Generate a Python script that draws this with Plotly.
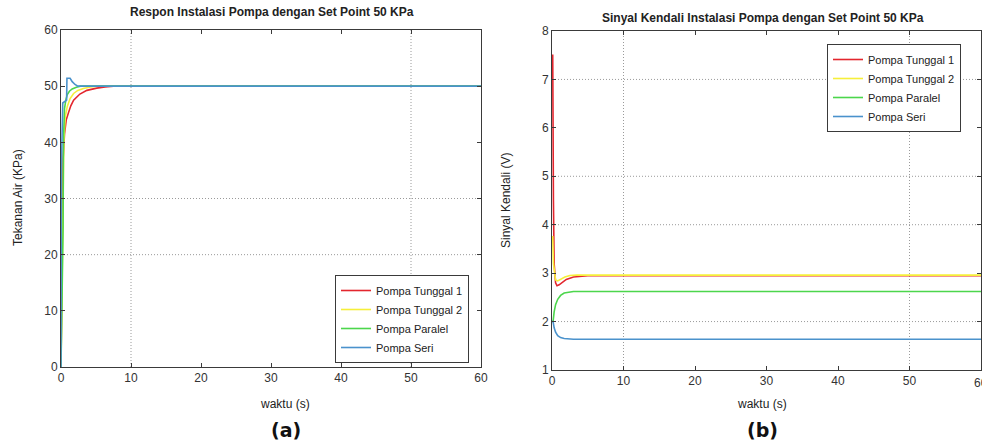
import plotly.graph_objects as go

# ---- Respon tekanan (KPa) terhadap waktu (s) ----
t_tunggal1_p = [0, 0.3, 0.5, 0.75, 1.05, 1.4, 1.8, 2.7, 3.7, 5.1, 6.3, 7.5, 60]
p_tunggal1 = [0, 37.0, 41.5, 44.0, 45.2, 46.5, 47.5, 48.6, 49.25, 49.65, 49.85, 50.0, 50.0]

t_tunggal2_p = [0, 0.3, 0.4, 0.6, 0.9, 1.3, 1.8, 2.4, 3.2, 4.2, 5.2, 60]
p_tunggal2 = [0, 30.0, 40.0, 44.5, 46.4, 47.8, 48.7, 49.25, 49.6, 49.85, 50.0, 50.0]

t_paralel_p = [0, 0.3, 0.35, 0.5, 0.7, 0.9, 1.2, 1.6, 2.2, 2.8, 60]
p_paralel = [0, 25.0, 40.0, 46.0, 47.6, 48.5, 49.1, 49.5, 49.8, 50.0, 50.0]

t_seri_p = [0, 0.05, 0.25, 0.55, 0.8, 0.85, 1.3, 1.6, 2.0, 2.4, 60]
p_seri = [0, 35.0, 47.0, 47.3, 47.5, 51.4, 51.4, 50.8, 50.3, 50.0, 50.0]

# ---- Sinyal kendali (V) terhadap waktu (s) ----
t_tunggal1_v = [0, 0.1, 0.2, 0.3, 0.5, 0.7, 1.0, 1.5, 2.0, 3.0, 4.0, 5.0, 60]
v_tunggal1 = [7.5, 7.5, 4.5, 3.2, 2.8, 2.74, 2.76, 2.82, 2.87, 2.92, 2.94, 2.945, 2.945]

t_tunggal2_v = [0, 0.1, 0.2, 0.35, 0.5, 0.8, 1.2, 1.8, 2.5, 3.5, 60]
v_tunggal2 = [3.75, 3.75, 3.2, 2.95, 2.86, 2.84, 2.87, 2.92, 2.95, 2.96, 2.96]

t_paralel_v = [0, 0.15, 0.3, 0.5, 0.8, 1.2, 1.7, 2.3, 3.0, 60]
v_paralel = [2.0, 2.0, 2.2, 2.35, 2.46, 2.54, 2.59, 2.61, 2.62, 2.62]

t_seri_v = [0, 0.15, 0.3, 0.5, 0.8, 1.2, 1.7, 2.3, 3.0, 60]
v_seri = [2.0, 2.0, 1.87, 1.78, 1.71, 1.67, 1.65, 1.64, 1.635, 1.635]

series_names = ["Pompa Tunggal 1", "Pompa Tunggal 2", "Pompa Paralel", "Pompa Seri"]
series_colors = ["#e3262e", "#f6ef3a", "#4cd64c", "#4a92cc"]

x_ticks = [0, 10, 20, 30, 40, 50, 60]
p_ticks = [0, 10, 20, 30, 40, 50, 60]
v_ticks = [1, 2, 3, 4, 5, 6, 7, 8]

# dotted grid positions
p_grid_x = [10, 50]
p_grid_y = [20, 30]
v_grid_x = [10, 50]
v_grid_y = [2, 4, 5, 7]

FONT = "Liberation Sans, Arial, sans-serif"
AX = "#3a3a3a"
GRID = "#9a9a9a"

fig = go.Figure()

left_sets = [(t_tunggal1_p, p_tunggal1), (t_tunggal2_p, p_tunggal2),
             (t_paralel_p, p_paralel), (t_seri_p, p_seri)]
right_sets = [(t_tunggal1_v, v_tunggal1), (t_tunggal2_v, v_tunggal2),
              (t_paralel_v, v_paralel), (t_seri_v, v_seri)]

for (tx, ty), name, col in zip(left_sets, series_names, series_colors):
    fig.add_trace(go.Scatter(x=tx, y=ty, mode="lines", name=name,
                             line=dict(color=col, width=1.6),
                             xaxis="x", yaxis="y", legend="legend"))
for (tx, ty), name, col in zip(right_sets, series_names, series_colors):
    fig.add_trace(go.Scatter(x=tx, y=ty, mode="lines", name=name,
                             line=dict(color=col, width=1.6),
                             xaxis="x2", yaxis="y2", legend="legend2"))

axis_common = dict(showline=True, linecolor=AX, linewidth=1, mirror="ticks",
                   ticks="inside", ticklen=4, tickcolor=AX, showgrid=False,
                   zeroline=False, automargin=False,
                   tickfont=dict(family=FONT, size=12, color="#333"))

fig.update_layout(
    width=982, height=444,
    margin=dict(l=0, r=0, t=0, b=0, autoexpand=False),
    paper_bgcolor="white", plot_bgcolor="white",
    font=dict(family=FONT, color="#222"),
    xaxis=dict(domain=[61 / 982, 481 / 982], range=[0, 60], tickvals=x_ticks,
               anchor="y", **axis_common),
    yaxis=dict(domain=[(444 - 367) / 444, (444 - 30) / 444], range=[0, 60],
               tickvals=p_ticks, anchor="x", **axis_common),
    xaxis2=dict(domain=[552 / 982, 981 / 982], range=[0, 60], tickvals=x_ticks,
                anchor="y2", **axis_common),
    yaxis2=dict(domain=[(444 - 370) / 444, (444 - 31) / 444], range=[1, 8],
                tickvals=v_ticks, anchor="x2", **axis_common),
    legend=dict(x=335 / 982, y=1 - 275 / 444, xanchor="left", yanchor="top",
                bgcolor="white", bordercolor=AX, borderwidth=1,
                font=dict(family=FONT, size=11, color="#222"),
                tracegroupgap=0, itemwidth=30),
    legend2=dict(x=827 / 982, y=1 - 44 / 444, xanchor="left", yanchor="top",
                 bgcolor="white", bordercolor=AX, borderwidth=1,
                 font=dict(family=FONT, size=11, color="#222"),
                 tracegroupgap=0, itemwidth=30),
    showlegend=True,
)

shapes = []
dot = dict(color=GRID, width=1, dash="1px,2px")
for gx in p_grid_x:
    shapes.append(dict(type="line", xref="x", yref="y domain", x0=gx, x1=gx, y0=0, y1=1,
                       line=dot, layer="below"))
for gy in p_grid_y:
    shapes.append(dict(type="line", xref="x domain", yref="y", x0=0, x1=1, y0=gy, y1=gy,
                       line=dot, layer="below"))
for gx in v_grid_x:
    shapes.append(dict(type="line", xref="x2", yref="y2 domain", x0=gx, x1=gx, y0=0, y1=1,
                       line=dot, layer="below"))
for gy in v_grid_y:
    shapes.append(dict(type="line", xref="x2 domain", yref="y2", x0=0, x1=1, y0=gy, y1=gy,
                       line=dot, layer="below"))
fig.update_layout(shapes=shapes)

def px_ann(text, x, y, size=12, bold=False, angle=0, family=FONT, color="#222"):
    fig.add_annotation(text=f"<b>{text}</b>" if bold else text,
                       xref="paper", yref="paper", x=x / 982, y=1 - y / 444,
                       xanchor="center", yanchor="middle", showarrow=False,
                       textangle=angle, font=dict(family=family, size=size, color=color))

px_ann("Respon Instalasi Pompa dengan Set Point 50 KPa", 272, 12, size=12, bold=True)
px_ann("Sinyal Kendali Instalasi Pompa dengan Set Point 50 KPa", 763, 18, size=12, bold=True)
px_ann("Tekanan Air (KPa)", 18, 198, size=12, angle=-90)
px_ann("Sinyal Kendali (V)", 506, 200, size=12, angle=-90)
px_ann("waktu (s)", 285, 404, size=12)
px_ann("waktu (s)", 762, 404, size=12)
px_ann("(a)", 286, 430, size=19, bold=True, family="DejaVu Sans, Verdana, sans-serif", color="#111")
px_ann("(b)", 762, 430, size=19, bold=True, family="DejaVu Sans, Verdana, sans-serif", color="#111")

# last time tick on the right panel sits at the page edge; label it explicitly if plotly drops it
fig.add_annotation(text="60", xref="x2", yref="paper", x=x_ticks[-1], y=1 - 383 / 444,
                   xanchor="center", yanchor="middle", showarrow=False,
                   font=dict(family=FONT, size=12, color="#333"))

fig.write_html("out.html")
